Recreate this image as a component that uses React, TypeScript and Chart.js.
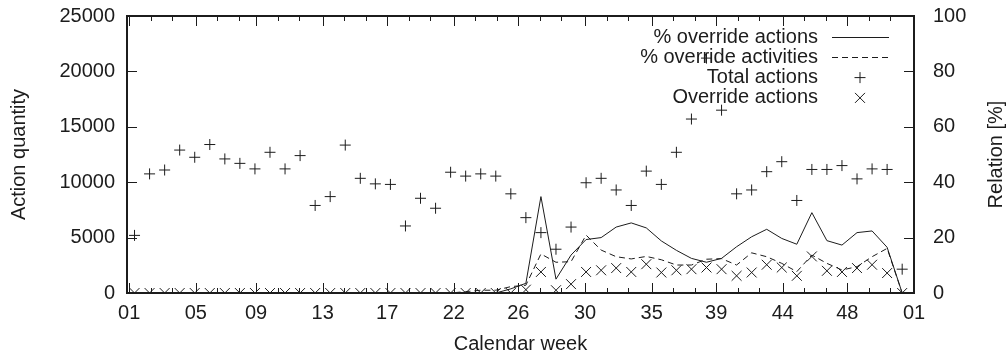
import React, { useEffect, useRef } from 'react';
import { Chart, registerables } from 'chart.js';

Chart.register(...registerables);

// ---- Data -------------------------------------------------------------
const weekNumbers = [
  1, 2, 3, 4, 5, 6, 7, 8, 9, 10, 11, 12, 13, 14, 15, 16, 17, 18, 19, 20, 21, 22, 23, 24, 25, 26,
  27, 28, 29, 30, 31, 32, 33, 34, 35, 36, 37, 38, 39, 40, 41, 42, 43, 44, 45, 46, 47, 48, 49, 50, 51, 52,
];

const totalActions = [
  5200, 10750, 11100, 12900, 12250, 13400, 12100, 11700, 11200, 12700, 11200, 12400, 7900,
  8700, 13350, 10350, 9850, 9800, 6050, 8550, 7650, 10900, 10550, 10750, 10550, 8950,
  6800, 5450, 3950, 5950, 9950, 10350, 9300, 7900, 11000, 9800, 12700, 15700, 21200,
  16500, 8950, 9300, 10950, 11850, 8350, 11150, 11150, 11500, 10300, 11200, 11150, 2150,
];

const overrideActions = [
  0, 0, 0, 0, 0, 0, 0, 0, 0, 0, 0, 0, 0,
  0, 0, 0, 0, 0, 0, 0, 0, 0, 0, 0, 0, 0,
  300, 1900, 250, 800, 1900, 2050, 2250, 1900, 2600, 1850, 2050, 2150, 2300,
  2150, 1550, 1850, 2550, 2300, 1550, 3300, 2000, 1900, 2250, 2550, 1800, 0,
];

const pctOverrideActions = [
  0, 0, 0, 0, 0, 0, 0, 0, 0, 0, 0, 0, 0,
  0, 0, 0, 0, 0, 0, 0, 0, 0, 0, 0, 0, 1.5,
  3.5, 34.8, 5.0, 13.7, 19.3, 20.0, 23.8, 25.3, 23.5, 18.8, 15.4, 12.5, 11.1,
  12.5, 16.7, 20.3, 23.0, 19.7, 17.6, 29.0, 18.9, 17.3, 21.8, 22.4, 16.5, 0,
];

const pctOverrideActivities = [
  0, 0, 0, 0, 0, 0, 0, 0, 0, 0, 0, 0, 0,
  0, 0, 0, 0, 0, 0, 0, 0, 0, 0.5, 1.0, 1.0, 2.3,
  2.8, 14.1, 11.1, 11.3, 20.9, 15.5, 13.1, 12.3, 13.2, 12.0, 10.1, 10.1, 12.2,
  12.4, 10.1, 14.5, 13.1, 10.7, 7.7, 13.7, 10.7, 8.3, 9.5, 13.1, 16.1, 0,
];

// x axis is a time axis (day of year); major ticks at month starts, labelled by calendar week
const xTickDays = [0, 31, 59, 90, 120, 151, 181, 212, 243, 273, 304, 334, 365];
const xTickLabels = ['01', '05', '09', '13', '17', '22', '26', '30', '35', '39', '44', '48', '01'];
const xMinorDays = [
  10, 20, 41, 51, 69, 79, 100, 110, 130, 140, 161, 171, 191, 201, 222, 232, 253, 263, 283, 293,
  314, 324, 344, 354,
];
const FIRST_WEEK_DAY = 2.5;
const DAYS_PER_WEEK = 7;

const seriesLabels = ['% override actions', '% override activities', 'Total actions', 'Override actions'];

// ---- Style --------------------------------------------------------------
const INK = '#1c1c1c';
const FONT = "'Liberation Sans', Arial, Helvetica, sans-serif";
const FONT_SIZE = 20;

const dayOfWeek = (w: number) => FIRST_WEEK_DAY + (w - 1) * DAYS_PER_WEEK;
const toXY = (vals: number[]) => weekNumbers.map((w, i) => ({ x: dayOfWeek(w), y: vals[i] }));

const crisp = (v: number) => Math.round(v) + 0.5;

const gnuplotFrame = {
  id: 'gnuplotFrame',
  afterDatasetsDraw(chart: any) {
    const { ctx, chartArea: a, scales } = chart;
    ctx.save();
    ctx.strokeStyle = INK;
    ctx.lineWidth = 1;
    ctx.setLineDash([]);
    ctx.beginPath();
    xTickDays.forEach((d) => {
      const x = crisp(scales.x.getPixelForValue(d));
      ctx.moveTo(x, a.bottom);
      ctx.lineTo(x, a.bottom - 10);
      ctx.moveTo(x, a.top);
      ctx.lineTo(x, a.top + 10);
    });
    xMinorDays.forEach((d) => {
      const x = crisp(scales.x.getPixelForValue(d));
      ctx.moveTo(x, a.bottom);
      ctx.lineTo(x, a.bottom - 5);
      ctx.moveTo(x, a.top);
      ctx.lineTo(x, a.top + 5);
    });
    scales.y.ticks.forEach((t: any) => {
      const y = crisp(scales.y.getPixelForValue(t.value));
      ctx.moveTo(a.left, y);
      ctx.lineTo(a.left + 10, y);
    });
    scales.y2.ticks.forEach((t: any) => {
      const y = crisp(scales.y2.getPixelForValue(t.value));
      ctx.moveTo(a.right, y);
      ctx.lineTo(a.right - 10, y);
    });
    ctx.stroke();

    ctx.lineWidth = 2;
    ctx.strokeRect(Math.round(a.left), Math.round(a.top), Math.round(a.right - a.left), Math.round(a.bottom - a.top));

    // legend (gnuplot style, top right inside)
    ctx.font = `${FONT_SIZE}px ${FONT}`;
    ctx.fillStyle = INK;
    ctx.textAlign = 'right';
    ctx.textBaseline = 'middle';
    chart.data.datasets.forEach((ds: any, i: number) => {
      const y = a.top + 21 + i * 20.3;
      ctx.fillText(ds.label, a.right - 96, y);
      ctx.lineWidth = 1;
      ctx.strokeStyle = INK;
      if (ds.showLine) {
        ctx.setLineDash(ds.borderDash || []);
        ctx.beginPath();
        ctx.moveTo(a.right - 82, crisp(y));
        ctx.lineTo(a.right - 25, crisp(y));
        ctx.stroke();
        ctx.setLineDash([]);
      } else {
        const cx = a.right - 54;
        ctx.beginPath();
        if (ds.pointStyle === 'cross') {
          ctx.moveTo(cx - 5.5, y);
          ctx.lineTo(cx + 5.5, y);
          ctx.moveTo(cx, y - 5.5);
          ctx.lineTo(cx, y + 5.5);
        } else {
          ctx.moveTo(cx - 5, y - 5);
          ctx.lineTo(cx + 5, y + 5);
          ctx.moveTo(cx - 5, y + 5);
          ctx.lineTo(cx + 5, y - 5);
        }
        ctx.stroke();
      }
    });

    // right axis title, reading bottom to top as in the reference
    ctx.save();
    ctx.translate(996, (a.top + a.bottom) / 2);
    ctx.rotate(-Math.PI / 2);
    ctx.textAlign = 'center';
    ctx.textBaseline = 'middle';
    ctx.fillText('Relation [%]', 0, 0);
    ctx.restore();

    ctx.restore();
  },
};

export default function App() {
  const canvasRef = useRef<HTMLCanvasElement | null>(null);

  useEffect(() => {
    const canvas = canvasRef.current;
    if (!canvas) return;
    const tickFont = { family: FONT, size: FONT_SIZE };
    const fitVertical = (width: number) => (scale: any) => {
      scale.width = width;
      scale.paddingTop = 0;
      scale.paddingBottom = 0;
    };
    const chart = new Chart(canvas, {
      type: 'line',
      data: {
        datasets: [
          {
            label: seriesLabels[0],
            data: toXY(pctOverrideActions),
            yAxisID: 'y2',
            borderColor: INK,
            borderWidth: 1,
            pointRadius: 0,
            showLine: true,
            tension: 0,
          },
          {
            label: seriesLabels[1],
            data: toXY(pctOverrideActivities),
            yAxisID: 'y2',
            borderColor: INK,
            borderWidth: 1,
            borderDash: [6, 4],
            pointRadius: 0,
            showLine: true,
            tension: 0,
          },
          {
            label: seriesLabels[2],
            data: toXY(totalActions),
            yAxisID: 'y',
            showLine: false,
            pointStyle: 'cross',
            pointRadius: 5.5,
            pointBorderWidth: 1,
            pointBorderColor: INK,
            borderColor: INK,
          },
          {
            label: seriesLabels[3],
            data: toXY(overrideActions),
            yAxisID: 'y',
            showLine: false,
            pointStyle: 'crossRot',
            pointRadius: 7,
            pointBorderWidth: 1,
            pointBorderColor: INK,
            borderColor: INK,
          },
        ],
      },
      options: {
        responsive: false,
        animation: false,
        events: [],
        layout: { padding: { top: 16, left: 0, right: 0, bottom: 0 } },
        plugins: { legend: { display: false }, tooltip: { enabled: false } },
        scales: {
          x: {
            type: 'linear',
            min: -1,
            max: 365,
            grid: { display: false, drawTicks: false },
            border: { display: false },
            afterBuildTicks: (scale: any) => {
              scale.ticks = xTickDays.map((v) => ({ value: v }));
            },
            afterFit: (scale: any) => {
              scale.height = 63;
              scale.paddingLeft = 0;
              scale.paddingRight = 0;
            },
            ticks: {
              autoSkip: false,
              maxRotation: 0,
              minRotation: 0,
              padding: 8,
              color: INK,
              font: tickFont,
              callback: (_v: any, i: number) => xTickLabels[i],
            },
            title: {
              display: true,
              text: 'Calendar week',
              color: INK,
              font: tickFont,
              padding: { top: 0, bottom: 0 },
            },
          },
          y: {
            type: 'linear',
            position: 'left',
            min: 0,
            max: 25000,
            grid: { display: false, drawTicks: false },
            border: { display: false },
            afterFit: fitVertical(127),
            ticks: {
              stepSize: 5000,
              padding: 12,
              color: INK,
              font: tickFont,
              callback: (v: any) => String(v),
            },
            title: {
              display: true,
              text: 'Action quantity',
              color: INK,
              font: tickFont,
              padding: 7,
            },
          },
          y2: {
            type: 'linear',
            position: 'right',
            min: 0,
            max: 100,
            grid: { display: false, drawTicks: false },
            border: { display: false },
            afterFit: fitVertical(93),
            ticks: {
              stepSize: 20,
              padding: 19,
              color: INK,
              font: tickFont,
              callback: (v: any) => String(v),
            },
          },
        },
      },
      plugins: [gnuplotFrame],
    } as any);
    return () => chart.destroy();
  }, []);

  return (
    <div style={{ position: 'absolute', left: 0, top: 0, width: 1007, height: 356, background: '#fff' }}>
      <canvas ref={canvasRef} width={1007} height={356} />
    </div>
  );
}
